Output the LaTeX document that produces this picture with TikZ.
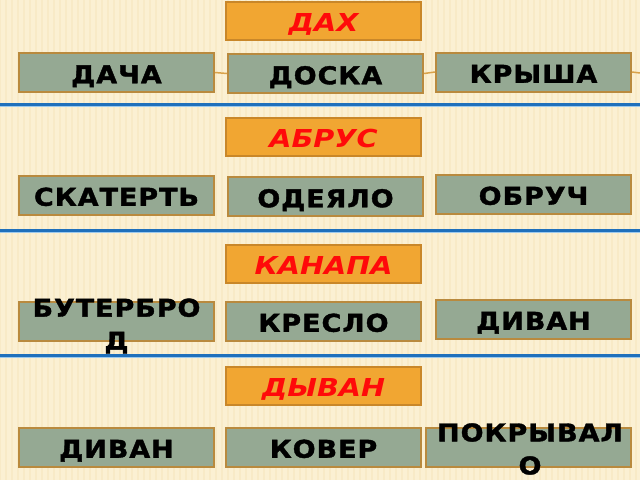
\documentclass[tikz,border=0pt]{standalone}
\usepackage{fontspec}
\newfontfamily\boxfont{DejaVu Sans Bold}[FakeStretch=1.1, LetterSpace=4, FakeBold=1.5]
\newfontfamily\keyfont{DejaVu Sans}[FakeStretch=1.16]
\definecolor{bgc}{HTML}{FBF0D3}
\definecolor{stripe}{HTML}{F3E0B2}
\definecolor{gfill}{HTML}{95A993}
\definecolor{gborder}{HTML}{B98A3E}
\definecolor{ofill}{HTML}{F1A632}
\definecolor{oborder}{HTML}{C98729}
\definecolor{bluedark}{HTML}{1F70BC}
\definecolor{bluelight}{HTML}{9DC9EC}
\definecolor{conn}{HTML}{D9A24A}
\definecolor{redtxt}{HTML}{FF0A0A}
\tikzset{
  wordbox/.style={draw=gborder, fill=gfill, line width=2pt, minimum width=195pt, minimum height=39pt, inner sep=0pt,
    font=\boxfont\fontsize{24.5}{33}\selectfont, text=black, text height=21.5pt, text depth=0pt},
  keybox/.style={draw=oborder, fill=ofill, line width=1.6pt, minimum width=195pt, minimum height=38pt, inner sep=0pt,
    font=\keyfont\bfseries\itshape\fontsize{24.7}{30}\selectfont, text=redtxt, text height=21pt, text depth=0pt},
  wraptext/.style={font=\boxfont\fontsize{24.5}{33}\selectfont, text=black, align=center, inner sep=0pt},
  joinline/.style={draw=conn, line width=1.5pt},
}
\begin{document}
\begin{tikzpicture}[x=1pt,y=-1pt]
\useasboundingbox (0,0) rectangle (640,480);
\fill[bgc] (0,0) rectangle (640,480);
\foreach \i in {0,6,...,640} {\draw[stripe, line width=1.6pt, opacity=0.35] (\i,0) -- (\i,480);}
% separators
\foreach \yy in {104,230,355} {
  \draw[bluelight, line width=1.5pt] (0,\yy+2) -- (640,\yy+2);
  \draw[bluedark, line width=3pt] (0,\yy) -- (640,\yy);
}
\coordinate (e1) at (640,73);
% row 1
\node[keybox] (k1) at (323.5,21) {ДАХ};
\node[wordbox] (a1) at (116.5,72.5) {ДАЧА};
\node[wordbox] (b1) at (325.5,73.5) {ДОСКА};
\node[wordbox] (c1) at (533.5,72) {КРЫША};
\draw[joinline] (a1.east) -- (b1.west);
\draw[joinline] (b1.east) -- (c1.west);
\draw[joinline] (c1.east) -- (e1);
% row 2
\node[keybox] (k2) at (323.5,137) {АБРУС};
\node[wordbox] (a2) at (116.5,195) {СКАТЕРТЬ};
\node[wordbox] (b2) at (325.5,196.5) {ОДЕЯЛО};
\node[wordbox] (c2) at (533.5,194) {ОБРУЧ};
% row 3
\node[keybox] (k3) at (323.5,264) {КАНАПА};
\node[wordbox] (a3) at (116.5,321) {};
\node[wraptext] (a3t) at (116.5,326) {БУТЕРБРО\\Д};
\node[wordbox] (b3) at (323.5,321) {КРЕСЛО};
\node[wordbox] (c3) at (533.5,319) {ДИВАН};
% row 4
\node[keybox] (k4) at (323.5,386) {ДЫВАН};
\node[wordbox] (a4) at (116.5,447) {ДИВАН};
\node[wordbox] (b4) at (323.5,447) {КОВЕР};
\node[wordbox, minimum width=205pt] (c4) at (528.5,447) {};
\node[wraptext] (c4t) at (530,449) {ПОКРЫВАЛ\\О};
\end{tikzpicture}
\end{document}
